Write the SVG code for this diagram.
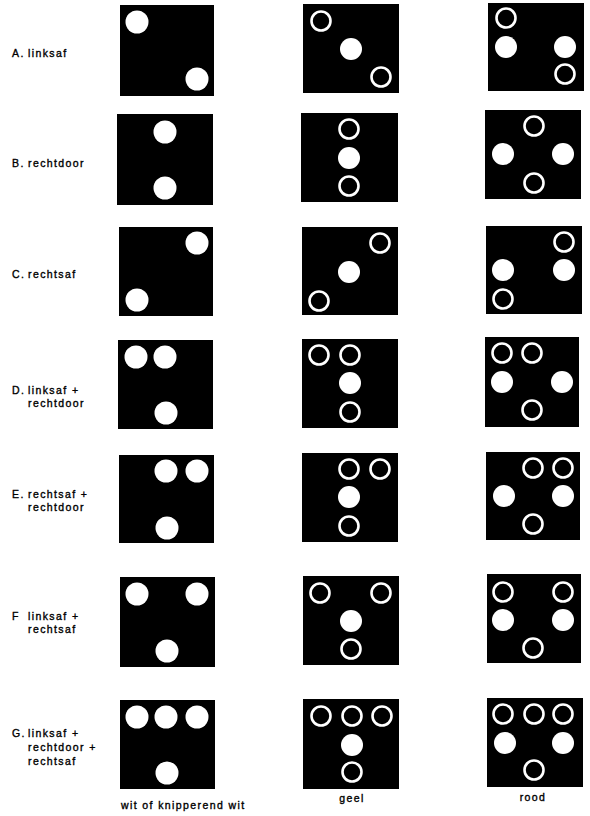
<svg xmlns="http://www.w3.org/2000/svg" width="590" height="816" viewBox="0 0 590 816">
<style>
.bg{fill:#fff}
.panel{fill:#000}
.lamp{fill:#fff}
.ring{fill:none;stroke:#fff;stroke-width:2.6}
.lbl{font-family:"Liberation Sans",Arial,sans-serif;font-size:10.5px;letter-spacing:1.4px;fill:#000;stroke:#000;stroke-width:0.35}
.mid{text-anchor:middle}
</style>
<rect class="bg" x="0" y="0" width="590" height="816"/>
<g id="labels">
<text class="lbl" x="12" y="57">A.</text><text class="lbl" x="28" y="57">linksaf</text>
<text class="lbl" x="12" y="167">B.</text><text class="lbl" x="28" y="167">rechtdoor</text>
<text class="lbl" x="12" y="278">C.</text><text class="lbl" x="28" y="278">rechtsaf</text>
<text class="lbl" x="12" y="394">D.</text><text class="lbl" x="28" y="394">linksaf +</text><text class="lbl" x="28" y="407">rechtdoor</text>
<text class="lbl" x="12" y="498">E.</text><text class="lbl" x="28" y="498">rechtsaf +</text><text class="lbl" x="28" y="511">rechtdoor</text>
<text class="lbl" x="12" y="620">F</text><text class="lbl" x="28" y="620">linksaf +</text><text class="lbl" x="28" y="633">rechtsaf</text>
<text class="lbl" x="12" y="737">G.</text><text class="lbl" x="28" y="737">linksaf +</text><text class="lbl" x="28" y="751">rechtdoor +</text><text class="lbl" x="28" y="765">rechtsaf</text>
<text class="lbl" x="121" y="809">wit of knipperend wit</text>
<text class="lbl mid" x="352" y="802">geel</text>
<text class="lbl mid" x="533" y="801">rood</text>
</g>
<g id="A-wit"><rect class="panel" x="120" y="5" width="94" height="91"/><circle class="lamp" cx="137" cy="22" r="11.5"/><circle class="lamp" cx="197" cy="79" r="11.5"/></g>
<g id="B-wit"><rect class="panel" x="117" y="114" width="96" height="91"/><circle class="lamp" cx="165" cy="132" r="11.5"/><circle class="lamp" cx="165" cy="188" r="11.5"/></g>
<g id="C-wit"><rect class="panel" x="119" y="227" width="94" height="89"/><circle class="lamp" cx="197" cy="243" r="11.5"/><circle class="lamp" cx="137" cy="300" r="11.5"/></g>
<g id="D-wit"><rect class="panel" x="118" y="340" width="95" height="89"/><circle class="lamp" cx="136" cy="357" r="11.5"/><circle class="lamp" cx="165" cy="357" r="11.5"/><circle class="lamp" cx="166" cy="413" r="11.5"/></g>
<g id="E-wit"><rect class="panel" x="119" y="455" width="95" height="88"/><circle class="lamp" cx="166" cy="471" r="11.5"/><circle class="lamp" cx="197" cy="471" r="11.5"/><circle class="lamp" cx="167" cy="528" r="11.5"/></g>
<g id="F-wit"><rect class="panel" x="120" y="577" width="95" height="90"/><circle class="lamp" cx="137" cy="594" r="11.5"/><circle class="lamp" cx="197" cy="594" r="11.5"/><circle class="lamp" cx="167" cy="651" r="11.5"/></g>
<g id="G-wit"><rect class="panel" x="120" y="700" width="95" height="89"/><circle class="lamp" cx="137" cy="717" r="11.5"/><circle class="lamp" cx="166" cy="717" r="11.5"/><circle class="lamp" cx="197" cy="717" r="11.5"/><circle class="lamp" cx="167" cy="773" r="11.5"/></g>
<g id="A-geel"><rect class="panel" x="303" y="4" width="96" height="89"/><circle class="ring" cx="321" cy="21" r="9.5"/><circle class="lamp" cx="351" cy="49" r="11"/><circle class="ring" cx="381" cy="77" r="9.5"/></g>
<g id="B-geel"><rect class="panel" x="301" y="113" width="97" height="89"/><circle class="ring" cx="349" cy="129" r="9.5"/><circle class="lamp" cx="349" cy="158" r="11"/><circle class="ring" cx="349" cy="186" r="9.5"/></g>
<g id="C-geel"><rect class="panel" x="302" y="227" width="96" height="88"/><circle class="ring" cx="380" cy="243" r="9.5"/><circle class="lamp" cx="349" cy="272" r="11"/><circle class="ring" cx="319" cy="301" r="9.5"/></g>
<g id="D-geel"><rect class="panel" x="302" y="339" width="96" height="89"/><circle class="ring" cx="319" cy="355" r="9.5"/><circle class="ring" cx="350" cy="355" r="9.5"/><circle class="lamp" cx="350" cy="383" r="11"/><circle class="ring" cx="350" cy="412" r="9.5"/></g>
<g id="E-geel"><rect class="panel" x="302" y="453" width="96" height="89"/><circle class="ring" cx="349" cy="469" r="9.5"/><circle class="ring" cx="380" cy="469" r="9.5"/><circle class="lamp" cx="349" cy="497" r="11"/><circle class="ring" cx="349" cy="526" r="9.5"/></g>
<g id="F-geel"><rect class="panel" x="303" y="576" width="96" height="89"/><circle class="ring" cx="320" cy="593" r="9.5"/><circle class="ring" cx="381" cy="593" r="9.5"/><circle class="lamp" cx="351" cy="621" r="11"/><circle class="ring" cx="351" cy="649" r="9.5"/></g>
<g id="G-geel"><rect class="panel" x="303" y="699" width="96" height="90"/><circle class="ring" cx="321" cy="716" r="9.5"/><circle class="ring" cx="352" cy="716" r="9.5"/><circle class="ring" cx="382" cy="716" r="9.5"/><circle class="lamp" cx="352" cy="745" r="11"/><circle class="ring" cx="352" cy="772" r="9.5"/></g>
<g id="A-rood"><rect class="panel" x="488" y="3" width="96" height="88"/><circle class="ring" cx="506" cy="18" r="9.5"/><circle class="lamp" cx="506" cy="47" r="11"/><circle class="lamp" cx="565" cy="47" r="11"/><circle class="ring" cx="565" cy="74" r="9.5"/></g>
<g id="B-rood"><rect class="panel" x="485" y="110" width="96" height="89"/><circle class="ring" cx="534" cy="126" r="9.5"/><circle class="lamp" cx="503" cy="154" r="11"/><circle class="lamp" cx="563" cy="154" r="11"/><circle class="ring" cx="534" cy="183" r="9.5"/></g>
<g id="C-rood"><rect class="panel" x="486" y="226" width="96" height="88"/><circle class="ring" cx="564" cy="242" r="9.5"/><circle class="lamp" cx="503" cy="270" r="11"/><circle class="lamp" cx="564" cy="270" r="11"/><circle class="ring" cx="503" cy="299" r="9.5"/></g>
<g id="D-rood"><rect class="panel" x="485" y="337" width="94" height="90"/><circle class="ring" cx="502" cy="353" r="9.5"/><circle class="ring" cx="532" cy="353" r="9.5"/><circle class="lamp" cx="502" cy="382" r="11"/><circle class="lamp" cx="562" cy="382" r="11"/><circle class="ring" cx="532" cy="410" r="9.5"/></g>
<g id="E-rood"><rect class="panel" x="486" y="452" width="94" height="88"/><circle class="ring" cx="533" cy="468" r="9.5"/><circle class="ring" cx="563" cy="468" r="9.5"/><circle class="lamp" cx="504" cy="496" r="11"/><circle class="lamp" cx="563" cy="496" r="11"/><circle class="ring" cx="533" cy="524" r="9.5"/></g>
<g id="F-rood"><rect class="panel" x="487" y="574" width="94" height="89"/><circle class="ring" cx="503" cy="592" r="9.5"/><circle class="ring" cx="563" cy="592" r="9.5"/><circle class="lamp" cx="503" cy="620" r="11"/><circle class="lamp" cx="563" cy="620" r="11"/><circle class="ring" cx="533" cy="648" r="9.5"/></g>
<g id="G-rood"><rect class="panel" x="487" y="698" width="96" height="89"/><circle class="ring" cx="503" cy="714" r="9.5"/><circle class="ring" cx="534" cy="714" r="9.5"/><circle class="ring" cx="563" cy="714" r="9.5"/><circle class="lamp" cx="505" cy="743" r="11"/><circle class="lamp" cx="563" cy="743" r="11"/><circle class="ring" cx="534" cy="770" r="9.5"/></g>
</svg>
